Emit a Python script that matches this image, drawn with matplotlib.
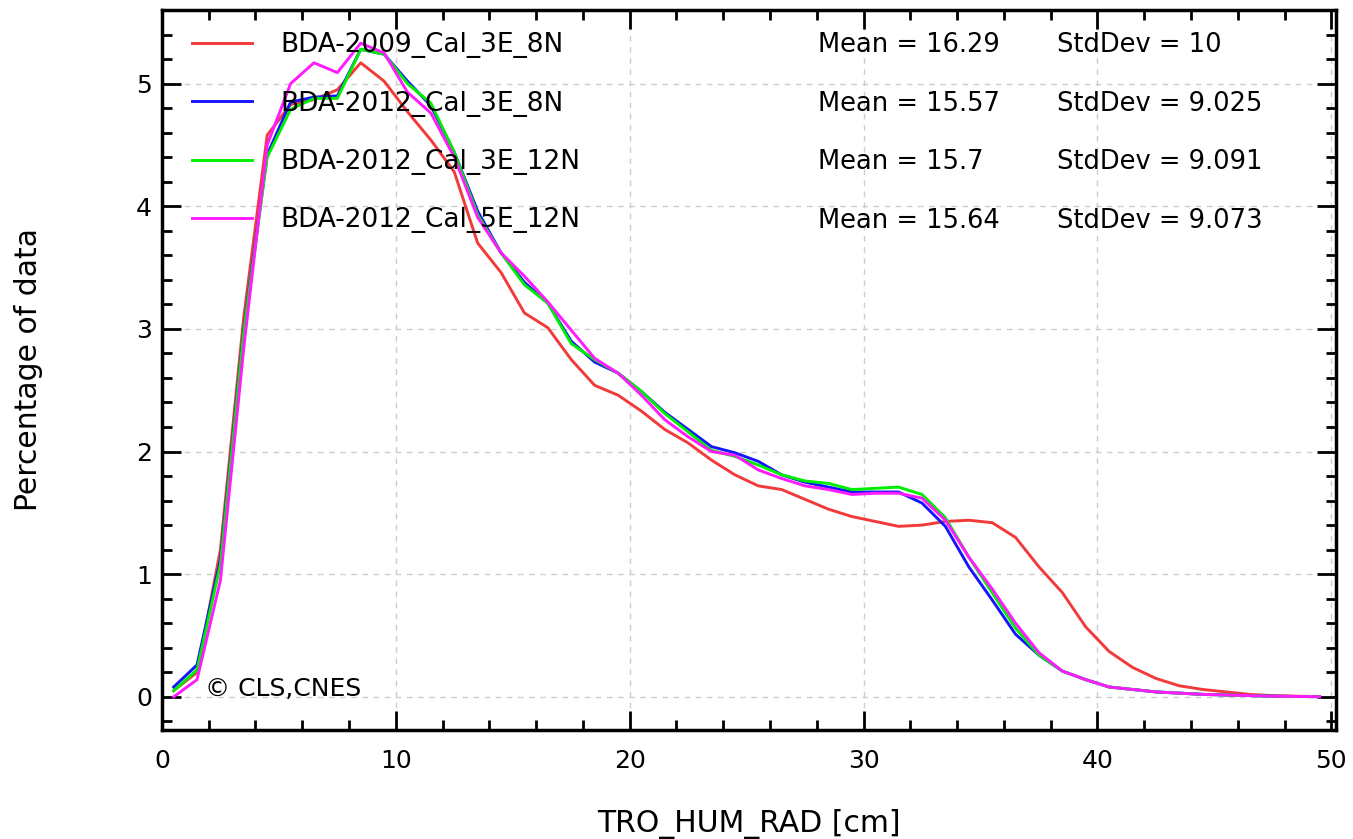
import numpy as np
import matplotlib
matplotlib.use('Agg')
import matplotlib.pyplot as plt
from matplotlib.ticker import MultipleLocator

# bin centres (cm)
x = np.arange(0.5, 50, 1.0)

bda2009_3e8n = [0.05, 0.20, 1.20, 3.10, 4.58, 4.83, 4.87, 4.95, 5.17, 5.02,
                4.77, 4.54, 4.28, 3.70, 3.46, 3.13, 3.01, 2.75, 2.54, 2.46,
                2.33, 2.18, 2.07, 1.93, 1.81, 1.72, 1.69, 1.61, 1.53, 1.47,
                1.43, 1.39, 1.40, 1.43, 1.44, 1.42, 1.30, 1.06, 0.85, 0.57,
                0.37, 0.24, 0.15, 0.09, 0.06, 0.04, 0.02, 0.01, 0.005, 0.002]
bda2012_3e8n = [0.08, 0.26, 1.12, 3.00, 4.42, 4.85, 4.89, 4.90, 5.28, 5.24,
                5.02, 4.82, 4.44, 3.96, 3.62, 3.38, 3.21, 2.90, 2.73, 2.64,
                2.49, 2.32, 2.18, 2.04, 1.99, 1.92, 1.81, 1.75, 1.71, 1.67,
                1.67, 1.67, 1.58, 1.39, 1.06, 0.79, 0.51, 0.34, 0.21, 0.14,
                0.08, 0.06, 0.04, 0.03, 0.02, 0.015, 0.01, 0.005, 0.003, 0.001]
bda2012_3e12n = [0.05, 0.22, 1.08, 2.98, 4.40, 4.79, 4.88, 4.88, 5.28, 5.24,
                 5.00, 4.84, 4.44, 3.93, 3.62, 3.36, 3.21, 2.88, 2.75, 2.64,
                 2.49, 2.31, 2.16, 2.01, 1.96, 1.89, 1.81, 1.76, 1.74, 1.69,
                 1.70, 1.71, 1.65, 1.46, 1.14, 0.85, 0.56, 0.34, 0.21, 0.14,
                 0.08, 0.06, 0.04, 0.03, 0.02, 0.015, 0.01, 0.005, 0.003, 0.001]
bda2012_5e12n = [0.00, 0.14, 0.95, 2.85, 4.50, 5.00, 5.17, 5.09, 5.33, 5.25,
                 4.93, 4.76, 4.40, 3.91, 3.62, 3.43, 3.22, 2.99, 2.76, 2.64,
                 2.46, 2.26, 2.12, 2.00, 1.97, 1.85, 1.78, 1.72, 1.69, 1.65,
                 1.66, 1.66, 1.62, 1.44, 1.14, 0.88, 0.60, 0.36, 0.21, 0.14,
                 0.08, 0.06, 0.04, 0.03, 0.02, 0.015, 0.01, 0.005, 0.003, 0.001]

labels = ['BDA-2009_Cal_3E_8N', 'BDA-2012_Cal_3E_8N',
          'BDA-2012_Cal_3E_12N', 'BDA-2012_Cal_5E_12N']
means = ['16.29', '15.57', '15.7', '15.64']
stds = ['10', '9.025', '9.091', '9.073']
colors = ['#f23a3a', '#1414ff', '#00ee00', '#ff1aff']

series = [bda2009_3e8n, bda2012_3e8n, bda2012_3e12n, bda2012_5e12n]

plt.rcParams['font.family'] = 'DejaVu Sans'
fig = plt.figure(figsize=(13.53, 8.39), dpi=100)
ax = fig.add_axes([0.1197, 0.130, 0.8677, 0.858])

for ys, lab, c in zip(series, labels, colors):
    ax.plot(x, ys, color=c, lw=2.1, label=lab)

ax.set_xlim(0, 50.2)
ax.set_ylim(-0.27, 5.6)
ax.xaxis.set_major_locator(MultipleLocator(10))
ax.xaxis.set_minor_locator(MultipleLocator(2))
ax.yaxis.set_major_locator(MultipleLocator(1))
ax.yaxis.set_minor_locator(MultipleLocator(0.2))
ax.grid(True, which='major', ls=(0, (4, 4)), color='#cccccc', lw=1.0)

ax.tick_params(which='both', direction='in', top=True, right=True, width=2.0)
ax.tick_params(which='major', length=14)
ax.tick_params(which='minor', length=7)
ax.tick_params(axis='x', which='major', labelsize=18, pad=14)
ax.tick_params(axis='y', which='major', labelsize=18, pad=7)
for s in ax.spines.values():
    s.set_linewidth(2.5)

ax.set_xlabel('TRO_HUM_RAD [cm]', fontsize=21.5)
ax.set_ylabel('Percentage of data', fontsize=21.5)
ax.xaxis.set_label_coords(0.5, -0.11)
ax.yaxis.set_label_coords(-0.101, 0.5)

leg = ax.legend(loc='upper left', bbox_to_anchor=(0.0256, 0.969), frameon=False,
                fontsize=19, handlelength=2.27, handletextpad=1.06,
                labelspacing=1.22, borderaxespad=0.0, borderpad=0.0)

rows = [0.951, 0.869, 0.789, 0.707]
for r, m, sd in zip(rows, means, stds):
    ax.text(0.559, r, 'Mean = ' + m, transform=ax.transAxes, fontsize=18.5,
            va='center', ha='left')
    ax.text(0.762, r, 'StdDev = ' + sd, transform=ax.transAxes, fontsize=18.5,
            va='center', ha='left')

ax.text(1.85, 0.06, '\u00a9 CLS,CNES', fontsize=18, va='center', ha='left')

fig.savefig('out.png', dpi=100)
